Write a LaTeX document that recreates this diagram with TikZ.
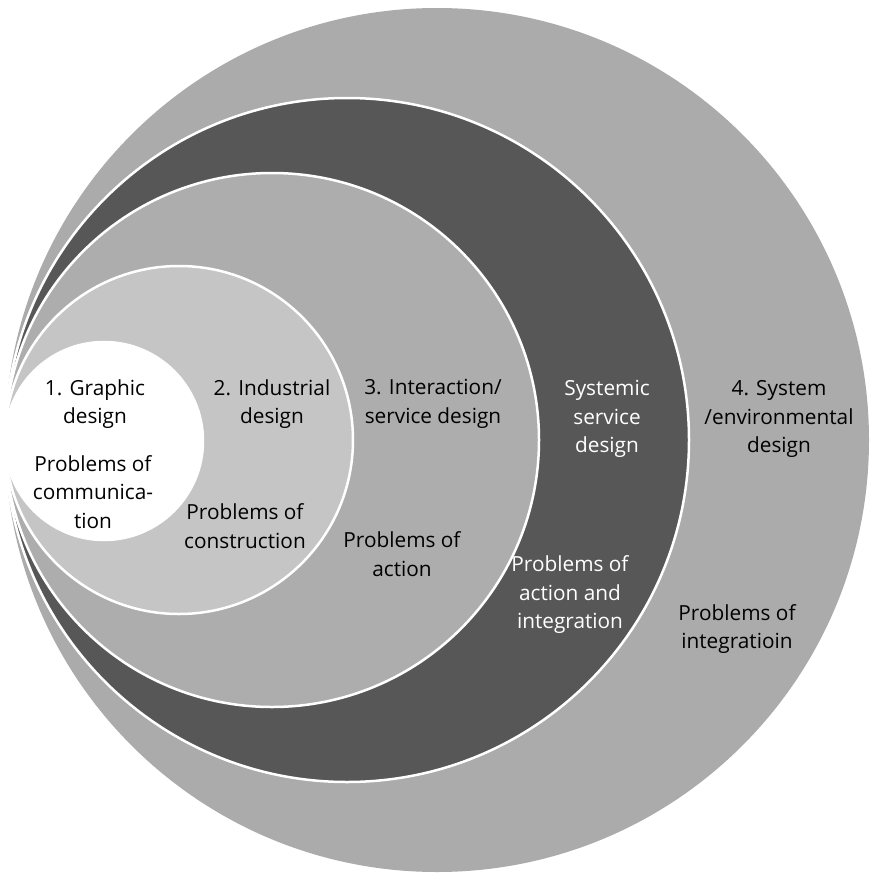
\documentclass[tikz,border=0pt]{standalone}
\usepackage{fontspec}
\setmainfont{Open Sans}
\definecolor{ringout}{RGB}{171,171,171}
\definecolor{ringdark}{RGB}{87,87,87}
\definecolor{ringmid}{RGB}{173,173,173}
\definecolor{ringlight}{RGB}{197,197,197}
\begin{document}
\begin{tikzpicture}[x=1pt,y=-1pt,
  ring/.style={draw=white,line width=2.5pt},
  lbl/.style={align=center,inner sep=0pt,font=\fontsize{20.8}{28.5}\selectfont,text=black},
  wlbl/.style={lbl,text=white}]
\useasboundingbox (0,0) rectangle (870,875);
\fill[ringout] (437,440) circle (432);
\filldraw[ring,fill=ringdark] (347,440) circle (342);
\filldraw[ring,fill=ringmid] (272,440) circle (267);
\filldraw[ring,fill=ringlight] (179,440) circle (174);
\filldraw[ring,fill=white] (104,441) circle (99);
\node[lbl] (g1) at (95,404) {1. Graphic\\design};
\node[lbl] (p1) at (93,492) {Problems of\\communica-\\tion};
\node[lbl] (g2) at (272,404) {2. Industrial\\design};
\node[lbl] (p2) at (245,526) {Problems of\\construction};
\node[lbl] (g3) at (433,404) {3. Interaction/\\service design};
\node[lbl] (p3) at (402,554) {Problems of\\action};
\node[wlbl] (gs) at (607,419) {Systemic\\service\\design};
\node[wlbl] (ps) at (570,595) {Problems of\\action and\\integration};
\node[lbl] (g4) at (779,419) {4. System\\/environmental\\design};
\node[lbl] (p4) at (737,629) {Problems of\\integratioin};
\end{tikzpicture}
\end{document}
